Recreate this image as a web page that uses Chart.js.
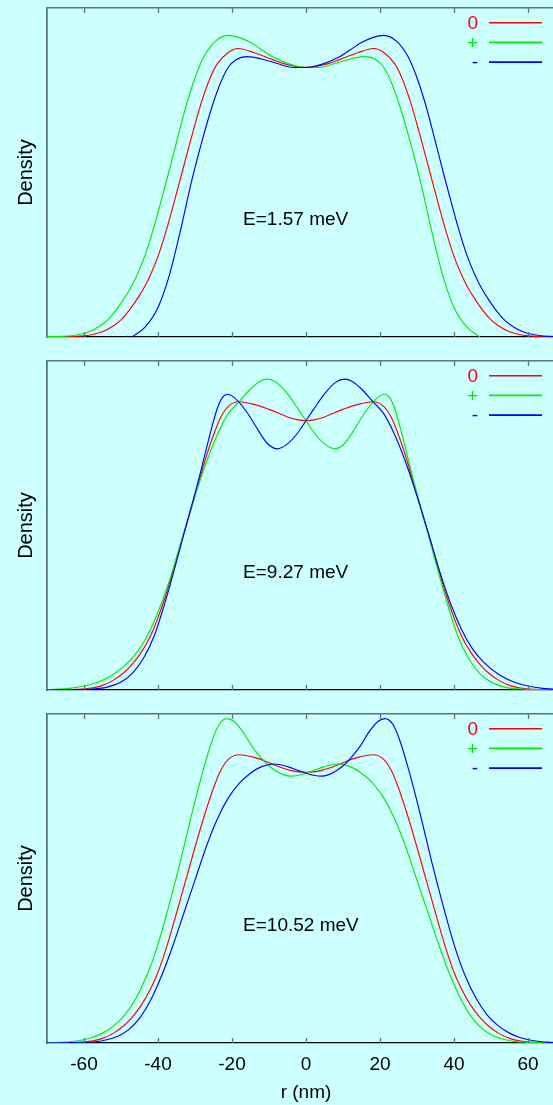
<!DOCTYPE html>
<html>
<head>
<meta charset="utf-8">
<script src="https://cdn.jsdelivr.net/npm/chart.js@4/dist/chart.umd.min.js"></script>
<style>
  html, body { margin: 0; padding: 0; background: #ccffff; width: 553px; height: 1105px; overflow: hidden; }
  .painel { position: absolute; left: 0; width: 570px; }
</style>
</head>
<body>
<div class="painel" style="top:0;height:349px"><canvas id="g1"></canvas></div>
<div class="painel" style="top:353px;height:349px"><canvas id="g2"></canvas></div>
<div class="painel" style="top:706px;height:399px"><canvas id="g3"></canvas></div>
<script>
// legend labels and energies
const LABELS = ['0', '+', '-'];
const ENERGIES = ['E=1.57 meV', 'E=9.27 meV', 'E=10.52 meV'];
const X_TICKS = [-60, -40, -20, 0, 20, 40, 60];

// panel 1 (E=1.57)
const P1_RED_R = [-70, -66, -62, -58, -55, -52, -50, -48, -45.8, -44, -42, -40, -38, -36, -33.5, -31, -28.5, -26, -24, -21, -18.3, -14, -9, -6, -3, 0, 3, 6, 9, 14, 18.3, 21, 24, 26, 28.5, 31, 33.5, 36, 38, 40, 42, 44, 45.8, 48, 50, 52, 55, 58, 62, 66, 70];
const P1_RED_D = [0, 0.0005, 0.002, 0.007, 0.016, 0.034, 0.052, 0.078, 0.113, 0.145, 0.19, 0.245, 0.315, 0.395, 0.50, 0.605, 0.705, 0.785, 0.83, 0.865, 0.877, 0.864, 0.843, 0.831, 0.823, 0.82, 0.823, 0.831, 0.843, 0.864, 0.877, 0.865, 0.83, 0.785, 0.705, 0.605, 0.50, 0.395, 0.315, 0.245, 0.19, 0.145, 0.113, 0.078, 0.052, 0.034, 0.016, 0.007, 0.002, 0.0005, 0];
const P1_GRN_R = [-70, -66, -62, -58.6, -55.6, -53.6, -51.6, -49.4, -47.6, -45.6, -43.6, -41.6, -39.6, -37.1, -34.6, -32.1, -29.6, -27.6, -24.6, -21, -18, -15, -12, -8.8, -4, 0, 4, 8, 12, 15.9, 19, 21, 23, 25.4, 28, 31, 34, 37, 40, 43.5, 47];
const P1_GRN_D = [0.001, 0.002, 0.006, 0.016, 0.034, 0.052, 0.078, 0.113, 0.145, 0.19, 0.245, 0.315, 0.395, 0.50, 0.61, 0.715, 0.80, 0.852, 0.898, 0.917, 0.910, 0.895, 0.873, 0.85, 0.828, 0.819, 0.82, 0.832, 0.845, 0.852, 0.842, 0.82, 0.775, 0.70, 0.60, 0.47, 0.32, 0.185, 0.09, 0.03, 0];
const P1_BLU_R = [-47, -43.5, -40, -37, -34, -31, -28, -25.4, -23, -21, -19, -15.9, -12, -8, -4, 0, 4, 8.8, 12, 15, 18, 21, 24.6, 27.6, 29.6, 32.1, 34.6, 37.1, 39.6, 41.6, 43.6, 45.6, 47.6, 49.4, 51.6, 53.6, 55.6, 58.6, 62, 66, 70];
const P1_BLU_D = [0, 0.03, 0.09, 0.185, 0.32, 0.47, 0.60, 0.70, 0.775, 0.82, 0.842, 0.852, 0.845, 0.832, 0.82, 0.819, 0.828, 0.85, 0.873, 0.895, 0.910, 0.917, 0.898, 0.852, 0.80, 0.715, 0.61, 0.50, 0.395, 0.315, 0.245, 0.19, 0.145, 0.113, 0.078, 0.052, 0.034, 0.016, 0.006, 0.002, 0.001];

// panel 2 (E=9.27)
const P2_RED_R = [-70, -66, -62, -58, -55, -52, -49.5, -47, -44.5, -42, -40, -38, -36, -34, -32.6, -30, -27.5, -25, -23, -21, -18.2, -14, -10, -7.5, -5, -2.5, 0, 2.5, 5, 7.5, 10, 14, 18.2, 21, 23, 25, 27.5, 30, 32.6, 34, 36, 38, 40, 42, 44.5, 47, 49.5, 52, 55, 58, 62, 66, 70];
const P2_RED_D = [0, 0.0005, 0.002, 0.006, 0.014, 0.03, 0.05, 0.078, 0.115, 0.165, 0.22, 0.285, 0.36, 0.44, 0.491, 0.59, 0.69, 0.775, 0.83, 0.862, 0.876, 0.868, 0.853, 0.842, 0.83, 0.822, 0.819, 0.822, 0.83, 0.842, 0.853, 0.868, 0.876, 0.862, 0.83, 0.775, 0.69, 0.59, 0.491, 0.44, 0.36, 0.285, 0.22, 0.165, 0.115, 0.078, 0.05, 0.03, 0.014, 0.006, 0.002, 0.0005, 0];
const P2_GRN_R = [-70, -64, -60, -56, -52, -48, -45, -42, -39, -36, -32.7, -30, -27, -24, -21, -18.1, -15, -12.5, -10.5, -8, -5, -2, 0, 2, 5, 7.8, 10.5, 13.5, 16, 18.2, 20, 21.2, 22.5, 24, 26, 29, 32.6, 35, 38, 41, 44, 47, 50, 54, 58, 62, 70];
const P2_GRN_D = [0.001, 0.005, 0.012, 0.025, 0.048, 0.085, 0.125, 0.185, 0.265, 0.365, 0.491, 0.59, 0.69, 0.775, 0.84, 0.876, 0.915, 0.938, 0.945, 0.935, 0.9, 0.852, 0.819, 0.785, 0.748, 0.733, 0.75, 0.80, 0.845, 0.876, 0.894, 0.899, 0.89, 0.855, 0.775, 0.64, 0.491, 0.39, 0.27, 0.165, 0.095, 0.05, 0.024, 0.008, 0.003, 0.001, 0];
const P2_BLU_R = [-70, -62, -58, -54, -50, -47, -44, -41, -38, -35, -32.6, -29, -26, -24, -22.5, -21.2, -20, -18.2, -16, -13.5, -10.5, -7.8, -5, -2, 0, 2, 5, 8, 10.5, 12.5, 15, 18.1, 21, 24, 27, 30, 32.7, 36, 39, 42, 45, 48, 52, 56, 60, 64, 70];
const P2_BLU_D = [0, 0.001, 0.003, 0.008, 0.024, 0.05, 0.095, 0.165, 0.27, 0.39, 0.491, 0.64, 0.775, 0.855, 0.89, 0.899, 0.894, 0.876, 0.845, 0.80, 0.75, 0.733, 0.748, 0.785, 0.819, 0.852, 0.9, 0.935, 0.945, 0.938, 0.915, 0.876, 0.84, 0.775, 0.69, 0.59, 0.491, 0.365, 0.265, 0.185, 0.125, 0.085, 0.048, 0.025, 0.012, 0.005, 0.001];

// panel 3 (E=10.52)
const P3_RED_R = [-70, -66, -62, -58, -55, -52, -49.5, -47, -44.5, -42, -40, -38, -36, -34, -32, -30, -27.5, -25, -23, -21, -18.1, -14, -10, -7, -4, -2, 0, 2, 4, 7, 10, 14, 18.2, 21, 23, 25, 27.5, 30, 32, 34, 36, 38, 40, 42, 44.5, 47, 49.5, 52, 55, 58, 62, 66, 70];
const P3_RED_D = [0, 0.0005, 0.002, 0.006, 0.014, 0.03, 0.05, 0.078, 0.115, 0.165, 0.215, 0.28, 0.355, 0.435, 0.515, 0.595, 0.69, 0.775, 0.83, 0.862, 0.876, 0.868, 0.852, 0.838, 0.828, 0.824, 0.823, 0.824, 0.828, 0.838, 0.852, 0.868, 0.876, 0.862, 0.83, 0.775, 0.69, 0.595, 0.515, 0.435, 0.355, 0.28, 0.215, 0.165, 0.115, 0.078, 0.05, 0.03, 0.014, 0.006, 0.002, 0.0005, 0];
const P3_GRN_R = [-70, -66, -62, -58, -55, -52, -49, -46, -43, -40, -37, -34, -31, -28, -25.5, -23.5, -21.4, -19.5, -17, -14.5, -12, -10.6, -8, -6, -4.3, -2, 0, 2, 5, 8.7, 12, 15, 18, 21, 24, 27, 30, 33, 36, 39, 42, 45, 48, 51, 55, 60, 70];
const P3_GRN_D = [0, 0.002, 0.006, 0.016, 0.03, 0.052, 0.085, 0.135, 0.205, 0.30, 0.42, 0.55, 0.69, 0.82, 0.915, 0.968, 0.986, 0.978, 0.945, 0.90, 0.865, 0.848, 0.826, 0.815, 0.811, 0.814, 0.82, 0.828, 0.84, 0.848, 0.84, 0.82, 0.79, 0.745, 0.68, 0.595, 0.495, 0.395, 0.295, 0.205, 0.13, 0.075, 0.04, 0.02, 0.007, 0.002, 0];
const P3_BLU_R = [-70, -60, -55, -51, -48, -45, -42, -39, -36, -33, -30, -27, -24, -21, -18, -15, -12, -8.7, -5, -2, 0, 2, 4.3, 6, 8, 10.6, 12, 14.5, 17, 19.5, 21.4, 23.5, 25.5, 28, 31, 34, 37, 40, 43, 46, 49, 52, 55, 58, 62, 66, 70];
const P3_BLU_D = [0, 0.002, 0.007, 0.02, 0.04, 0.075, 0.13, 0.205, 0.295, 0.395, 0.495, 0.595, 0.68, 0.745, 0.79, 0.82, 0.84, 0.848, 0.84, 0.828, 0.82, 0.814, 0.811, 0.815, 0.826, 0.848, 0.865, 0.90, 0.945, 0.978, 0.986, 0.968, 0.915, 0.82, 0.69, 0.55, 0.42, 0.30, 0.205, 0.135, 0.085, 0.052, 0.03, 0.016, 0.006, 0.002, 0];

const FONTE = "'Liberation Sans', Arial, sans-serif";
const CINZA = '#5f7474';
const CORES = ['#ff0000', '#00ee00', '#0000ff'];

const tracinhos = {
  id: 'tracinhos',
  afterDatasetsDraw(chart) {
    const { ctx, chartArea: a, scales: { x } } = chart;
    ctx.save();
    ctx.strokeStyle = CINZA; ctx.lineWidth = 1.3;
    X_TICKS.forEach(v => {
      const px = Math.round(x.getPixelForValue(v)) + 0.5;
      ctx.beginPath();
      ctx.moveTo(px, a.bottom); ctx.lineTo(px, a.bottom - 5);
      ctx.moveTo(px, a.top); ctx.lineTo(px, a.top + 5);
      ctx.stroke();
    });
    ctx.restore();
  },
};

const legenda = {
  id: 'legenda',
  afterDraw(chart) {
    const { ctx, chartArea: a } = chart;
    ctx.save();
    ctx.font = '19px ' + FONTE;
    ctx.textAlign = 'right'; ctx.textBaseline = 'middle';
    LABELS.forEach((t, i) => {
      const y = a.top + 14.7 + i * 19.7;
      ctx.fillStyle = CORES[i];
      ctx.fillText(t, a.right - 87, y + 1);
      ctx.strokeStyle = CORES[i]; ctx.lineWidth = 1.6;
      ctx.beginPath(); ctx.moveTo(a.right - 76, y); ctx.lineTo(a.right - 23, y); ctx.stroke();
    });
    const { x, y } = chart.scales;
    ctx.fillStyle = '#000'; ctx.textAlign = 'left';
    ctx.fillText(chart.options.energia, x.getPixelForValue(-17), y.getPixelForValue(0.356));
    ctx.restore();
  },
};

function serie(r, d, i) {
  return {
    label: LABELS[i], data: r.map((v, k) => ({ x: v, y: d[k] })),
    borderColor: CORES[i], borderWidth: 1.15, pointRadius: 0, fill: false,
    cubicInterpolationMode: 'monotone', order: 3 - i,
  };
}

function montar(id, series, energia, ultimo) {
  return new Chart(document.getElementById(id), {
    type: 'line',
    data: { datasets: series.map((s, i) => serie(s[0], s[1], i)) },
    options: {
      energia,
      responsive: true, maintainAspectRatio: false, animation: false,
      layout: { padding: { top: 8, right: 5, left: 0, bottom: 0 } },
      plugins: { legend: { display: false }, tooltip: { enabled: false } },
      scales: {
        x: {
          type: 'linear', min: -70, max: 70, position: 'bottom',
          afterBuildTicks: s => { s.ticks = X_TICKS.map(v => ({ value: v })); },
          ticks: { display: ultimo, color: '#000', font: { family: FONTE, size: 19 }, padding: 10, maxRotation: 0 },
          grid: { display: false, drawTicks: false },
          border: { display: true, color: '#000', width: 1.3 },
          title: { display: ultimo, text: 'r (nm)', color: '#000', font: { family: FONTE, size: 19 }, padding: { top: 0, bottom: 1 } },
          afterFit: s => { s.height = ultimo ? 62 : 12; },
        },
        x2: {
          type: 'linear', min: -70, max: 70, position: 'top',
          ticks: { display: false }, grid: { display: false, drawTicks: false },
          border: { display: true, color: CINZA, width: 1.6 },
          afterFit: s => { s.height = 0; },
        },
        y: {
          min: 0, max: 1,
          ticks: { display: false }, grid: { display: false, drawTicks: false },
          border: { display: true, color: CINZA, width: 1.8 },
          title: { display: true, text: 'Density', color: '#000', font: { family: FONTE, size: 20 }, padding: { top: 14, bottom: 0 } },
          afterFit: s => { s.width = 47; },
        },
      },
    },
    plugins: [tracinhos, legenda],
  });
}

montar('g1', [[P1_RED_R, P1_RED_D], [P1_GRN_R, P1_GRN_D], [P1_BLU_R, P1_BLU_D]], ENERGIES[0], false);
montar('g2', [[P2_RED_R, P2_RED_D], [P2_GRN_R, P2_GRN_D], [P2_BLU_R, P2_BLU_D]], ENERGIES[1], false);
montar('g3', [[P3_RED_R, P3_RED_D], [P3_GRN_R, P3_GRN_D], [P3_BLU_R, P3_BLU_D]], ENERGIES[2], true);
</script>
</body>
</html>
